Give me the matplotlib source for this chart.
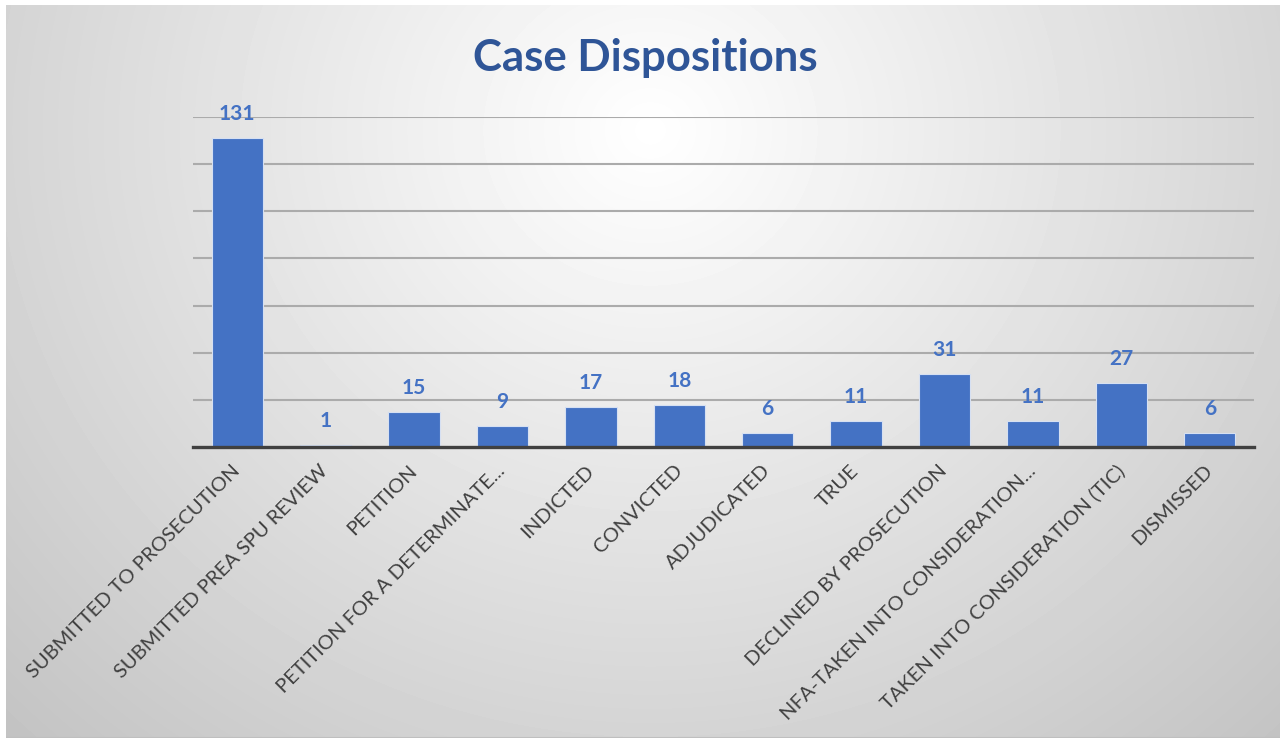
import matplotlib
matplotlib.use("Agg")
import matplotlib.pyplot as plt
import numpy as np
from matplotlib.patches import Rectangle

categories = [
    "SUBMITTED TO PROSECUTION",
    "SUBMITTED PREA SPU REVIEW",
    "PETITION",
    "PETITION FOR A DETERMINATE...",
    "INDICTED",
    "CONVICTED",
    "ADJUDICATED",
    "TRUE",
    "DECLINED BY PROSECUTION",
    "NFA-TAKEN INTO CONSIDERATION...",
    "TAKEN INTO CONSIDERATION (TIC)",
    "DISMISSED",
]
counts = [131, 1, 15, 9, 17, 18, 6, 11, 31, 11, 27, 6]

W, H = 1284, 738
fig = plt.figure(figsize=(W / 100, H / 100), dpi=100, facecolor="white")

# radial grey background like the office chart style
bg = fig.add_axes([6 / W, 0, (1280 - 6) / W, 1 - 5 / H])
yy, xx = np.mgrid[0:H, 0:W]
r = np.sqrt(((xx - 650) / 700.0) ** 2 + ((yy - 130) / 650.0) ** 2)
shade = 1 - 0.18 * r
bg.imshow(shade, cmap="gray", vmin=0, vmax=1, extent=[0, W, H, 0], aspect="auto")
bg.add_patch(Rectangle((0, 0), W, H, fill=False, edgecolor="#bfbfbf", lw=1.5))
bg.set_xlim(6, 1280)
bg.set_ylim(H, 5)
bg.axis("off")

ax = fig.add_axes([193 / W, (H - 447) / H, (1254 - 193) / W, (447 - 117) / H])
ax.patch.set_alpha(0)
x = np.arange(len(categories))
bars = ax.bar(x, counts, width=0.58, color="#4472C4", edgecolor="#d6e0f2", linewidth=0.8, zorder=3)

for xi, v in zip(x, counts):
    ax.annotate(str(v), (xi, v), xytext=(0, 10), textcoords="offset points",
                ha="center", va="bottom", fontsize=15, fontweight="bold",
                color="#4472C4", family="Lato", annotation_clip=False)

ax.set_xlim(-0.5, len(categories) - 0.5)
ax.set_ylim(0, 140)
ax.set_yticks(np.arange(20, 141, 20))
ax.yaxis.grid(True, color="#ababab", lw=1.5, zorder=0)
ax.tick_params(axis="y", left=False, labelleft=False)
ax.set_xticks(x)
ax.set_xticklabels(categories, rotation=45, ha="right", va="center", rotation_mode="anchor",
                   fontsize=14.5, color="#404040", family="Lato")
ax.tick_params(axis="x", length=0, pad=15)
for s in ["top", "right", "left"]:
    ax.spines[s].set_visible(False)
ax.spines["bottom"].set_color("#404040")
ax.spines["bottom"].set_linewidth(2.4)
ax.spines["bottom"].set_zorder(4)

fig.text(645 / W, 1 - 58 / H, "Case Dispositions", ha="center", va="center",
         fontsize=31.5, fontweight="bold", color="#2F5597", family="Lato")

fig.savefig("out.png", dpi=100, facecolor="white")
